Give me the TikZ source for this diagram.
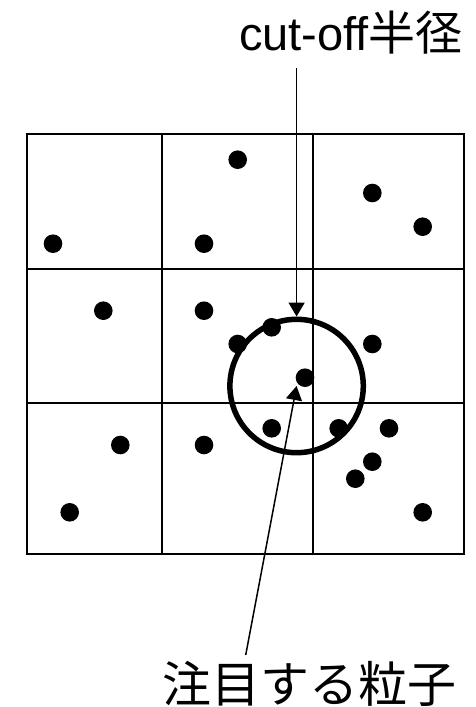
\documentclass[tikz,border=0pt]{standalone}
\usepackage{fontspec}
\setmainfont{Liberation Sans}
\newfontfamily\cjk{Noto Sans CJK JP}
\usetikzlibrary{arrows.meta}
\begin{document}
\begin{tikzpicture}[x=1pt,y=-1pt,
  gridline/.style={line width=2pt},
  particle/.style={circle,fill=black,inner sep=0pt,minimum size=18.6pt},
  pointer/.style={line width=1.5pt,-{Triangle[width=16pt,length=14pt]}},
  label/.style={inner sep=0pt,font=\fontsize{47}{56}\selectfont}]
\useasboundingbox (0,0) rectangle (476,707);
% grid
\draw[gridline] (27.3,134.3) rectangle (464.3,553.7);
\draw[gridline] (162.3,134.3) -- (162.3,553.7);
\draw[gridline] (313.3,134.3) -- (313.3,553.7);
\draw[gridline] (27.3,269) -- (464.3,269);
\draw[gridline] (27.3,403.3) -- (464.3,403.3);
% particles
\foreach \n/\x/\y in {1/237.7/159.7,2/372.3/193,3/422.7/226.7,4/53/243.7,5/204/243.7,
  6/103.3/310.7,7/204/310.7,8/271.7/327.3,9/237.7/344,10/372.3/344,
  11/120.3/445,12/204/445,13/271.7/428.3,14/338.7/428.3,15/389/428.3,
  16/372.3/461.7,17/355.3/478.7,18/69.7/512.3,19/422.7/512.3}
  \node[particle] (p\n) at (\x,\y) {};
\node[particle] (focus) at (305,377.7) {};
% cut-off circle
\node[circle,draw,line width=5.5pt,inner sep=0pt,minimum size=133.4pt] (cutoff) at (296.6,386) {};
% labels
\node[label,anchor=base] (radius) at (351,50) {cut-off{\cjk 半径}};
\node[label,anchor=base,font=\cjk\fontsize{49}{58}\selectfont] (target) at (309,702) {注目する粒子};
\coordinate (rtop) at (296.6,68);
\coordinate (tbot) at (245.7,655);
\draw[pointer] (rtop) -- (cutoff.north);
\draw[pointer] (tbot) -- (cutoff.center);
\end{tikzpicture}
\end{document}
